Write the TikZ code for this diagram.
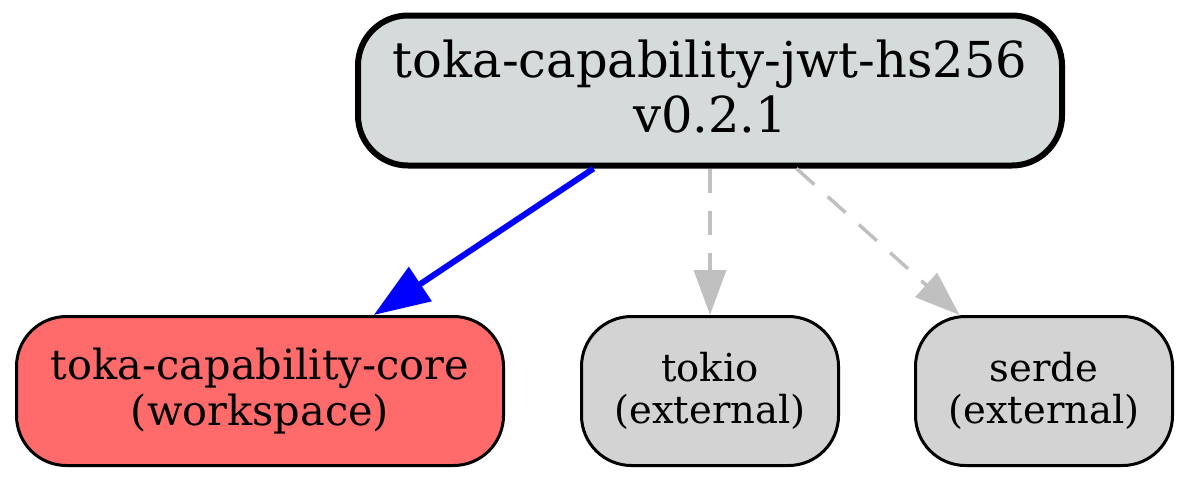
\documentclass[tikz,border=0pt]{standalone}
\usepackage{fontspec}
\setmainfont{DejaVu Serif}
\usetikzlibrary{arrows.meta}
\definecolor{topfill}{HTML}{D5DBDB}
\definecolor{corefill}{HTML}{FF6B6B}
\definecolor{extfill}{HTML}{D3D3D3}
\definecolor{dashgray}{HTML}{C0C0C0}
\tikzset{
  pkg/.style={draw=black, rounded corners=50pt, inner sep=0pt, align=center, line width=3pt, minimum height=149pt},
  toppkg/.style={pkg, fill=topfill, line width=6pt, minimum width=704pt, minimum height=150pt, text depth=9.6pt, font=\fontsize{49.5}{55}\selectfont},
  corepkg/.style={pkg, fill=corefill, minimum width=487pt, font=\fontsize{41.5}{46}\selectfont},
  extpkg/.style={pkg, fill=extfill, minimum width=257pt, font=\fontsize{38.5}{42}\selectfont},
  wsedge/.style={draw=blue, line width=6pt, -{Triangle[length=56pt,width=40pt]}},
  extedge/.style={draw=dashgray, line width=3.5pt, dash pattern=on 24pt off 18pt, -{Triangle[length=45pt,width=32pt]}}
}
\begin{document}
\begin{tikzpicture}[x=1pt,y=1pt]
\useasboundingbox (0,0) rectangle (1190,-483);
\node[toppkg] (top) at (710,-90.5) {toka-capability-jwt-hs256\\v0.2.1};
\node[corepkg] (core) at (260,-391) {toka-capability-core\\(workspace)};
\node[extpkg] (tokio) at (710,-391) {tokio\\(external)};
\node[extpkg] (serde) at (1044,-391) {serde\\(external)};
\draw[wsedge] (top) -- (core);
\draw[extedge] (top) -- (tokio);
\draw[extedge] (top) -- (serde);
\end{tikzpicture}
\end{document}
